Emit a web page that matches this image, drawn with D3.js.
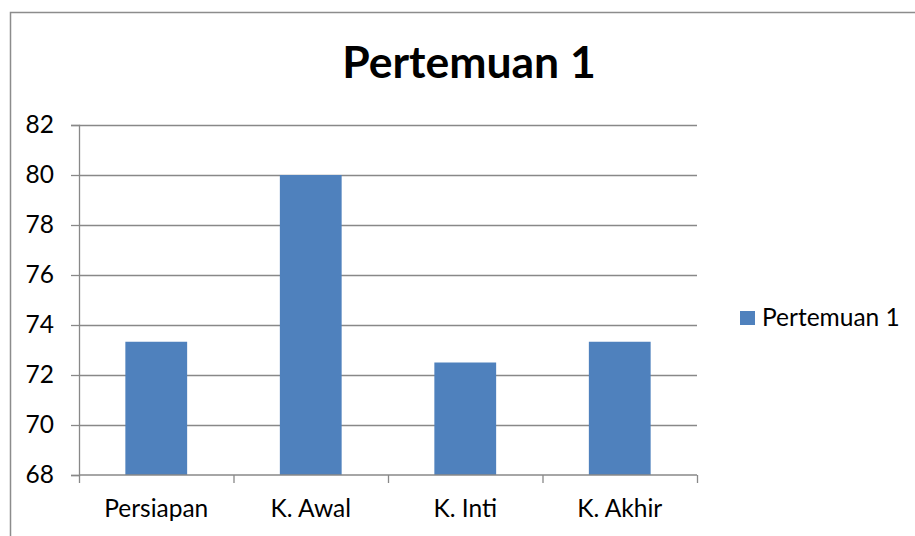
<!DOCTYPE html>
<html>
<head>
<meta charset="utf-8">
<script src="https://cdn.jsdelivr.net/npm/d3@7.9.0/dist/d3.min.js"></script>
<style>
  body { margin: 0; background: #fff; }
  svg { display: block; font-family: Lato, "Open Sans", sans-serif; }
</style>
</head>
<body>
<svg id="chart"></svg>
<script>
const categories = ['Persiapan', 'K. Awal', 'K. Inti', 'K. Akhir'];
const values = [73.33, 80, 72.5, 73.33];
const yTicks = [68, 70, 72, 74, 76, 78, 80, 82];
const seriesName = 'Pertemuan 1';

const width = 915, height = 536;
const margin = { left: 79, right: 218, top: 125, bottom: 61 };
const fontSize = 24.5;

const svg = d3.select('#chart')
    .attr('width', width)
    .attr('height', height);

// chart frame
svg.append('path')
    .attr('d', `M10.5,${height} V12.5 H${width}`)
    .attr('fill', 'none')
    .attr('stroke', '#8c8c8c')
    .attr('stroke-width', 1.5);

let x = d3.scaleBand()
    .domain(categories)
    .range([margin.left, width - margin.right])
    .paddingInner(0.6)
    .paddingOuter(0.3);

let y = d3.scaleLinear()
    .domain([68, 82])
    .range([height - margin.bottom, margin.top]);

// gridlines
svg.append('g')
    .selectAll('line')
    .data(yTicks.slice(1))
    .join('line')
    .attr('x1', margin.left)
    .attr('x2', width - margin.right)
    .attr('y1', d => Math.round(y(d)) + 0.5)
    .attr('y2', d => Math.round(y(d)) + 0.5)
    .attr('stroke', '#888')
    .attr('stroke-width', 1.3);

// bars
svg.append('g')
    .selectAll('rect')
    .data(values)
    .join('rect')
    .attr('x', (d, i) => x(categories[i]))
    .attr('width', x.bandwidth())
    .attr('y', d => y(d))
    .attr('height', d => y(68) - y(d))
    .attr('fill', '#4f81bd');

// y axis
let yAxis = svg.append('g')
    .attr('transform', `translate(${margin.left},0)`)
    .call(d3.axisLeft(y).tickValues(yTicks).tickSize(8).tickPadding(17));
yAxis.selectAll('text').attr('font-size', fontSize).attr('fill', '#000').attr('font-family', 'Lato');

// x axis
let xOuter = d3.scalePoint()
    .domain(d3.range(categories.length + 1))
    .range([margin.left, width - margin.right]);

let xAxis = svg.append('g')
    .attr('transform', `translate(0,${height - margin.bottom})`);
xAxis.append('g')
    .call(d3.axisBottom(xOuter).tickSize(8).tickFormat(''))
    .select('.domain').remove();
xAxis.append('g')
    .call(d3.axisBottom(x).tickSize(0).tickPadding(25))
    .selectAll('text').attr('font-size', fontSize).attr('fill', '#000').attr('font-family', 'Lato');
xAxis.selectAll('.domain').remove();
xAxis.append('line')
    .attr('x1', margin.left)
    .attr('x2', width - margin.right)
    .attr('stroke', '#888')
    .attr('stroke-width', 1.3);

svg.selectAll('.tick line').attr('stroke', '#888').attr('stroke-width', 1.3);
yAxis.select('.domain').attr('stroke', '#888').attr('stroke-width', 1.3);

// title
svg.append('text')
    .attr('x', 469)
    .attr('y', 78)
    .attr('text-anchor', 'middle')
    .attr('font-size', 44.5)
    .attr('font-weight', 'bold')
    .text(seriesName);

// legend
let legend = svg.append('g').attr('transform', 'translate(740,311)');
legend.append('rect')
    .attr('width', 15)
    .attr('height', 14)
    .attr('fill', '#4f81bd');
legend.append('text')
    .attr('x', 22)
    .attr('y', 15)
    .attr('font-size', fontSize)
    .text(seriesName);
</script>
</body>
</html>
